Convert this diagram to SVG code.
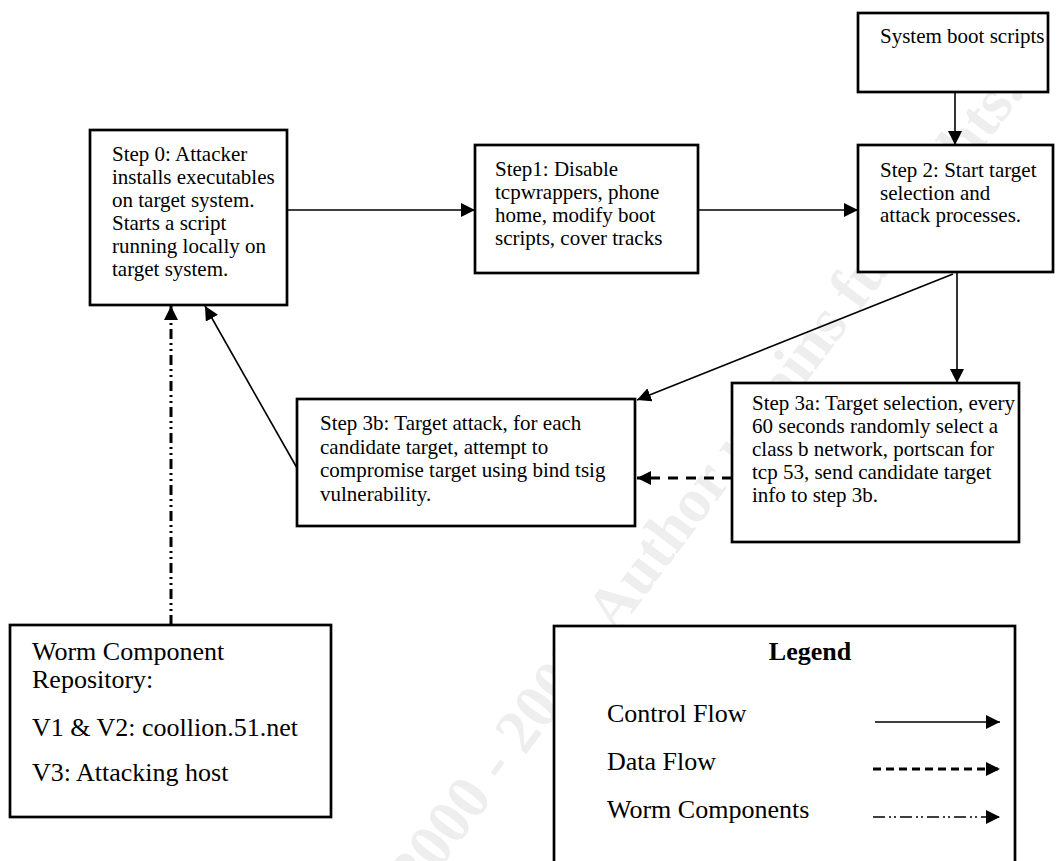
<svg xmlns="http://www.w3.org/2000/svg" width="1057" height="861" viewBox="0 0 1057 861">
<style>
  .box { fill: #ffffff; stroke: #000000; stroke-width: 2.7; }
  .t { font-family: "Liberation Serif", "Times New Roman", serif; font-size: 21px; fill: #000000; }
  .tl { font-family: "Liberation Serif", "Times New Roman", serif; font-size: 26px; fill: #000000; }
  .tb { font-family: "Liberation Serif", "Times New Roman", serif; font-size: 26px; font-weight: bold; fill: #000000; }
  .wm { font-family: "Liberation Serif", "Times New Roman", serif; font-size: 62px; font-weight: bold; fill: #eeeeee; }
  .ctrl { fill: none; stroke: #000000; stroke-width: 1.6; }
  .data { fill: none; stroke: #000000; stroke-width: 3; stroke-dasharray: 10 8; }
  .worm { fill: none; stroke: #000000; stroke-width: 3; stroke-dasharray: 10 4 2 4 2 4; }
  .lctrl { fill: none; stroke: #000000; stroke-width: 1.6; }
  .ldata { fill: none; stroke: #000000; stroke-width: 3; stroke-dasharray: 8 5; }
  .lworm { fill: none; stroke: #000000; stroke-width: 1.6; stroke-dasharray: 12 4 2 3 2 4; }
</style>
<defs>
  <marker id="ah" markerUnits="userSpaceOnUse" markerWidth="15" markerHeight="15" refX="14" refY="7" orient="auto">
    <path d="M0,0 L14,7 L0,14 Z" fill="#000000"/>
  </marker>
</defs>

<text class="wm" transform="translate(1025,92) rotate(-53)" text-anchor="end">© SANS Institute 2000 - 2002, Author retains full rights.</text>

<g id="connectors">
  <line class="ctrl" x1="287" y1="210" x2="475" y2="210" marker-end="url(#ah)"/>
  <line class="ctrl" x1="698" y1="210" x2="858" y2="210" marker-end="url(#ah)"/>
  <line class="ctrl" x1="955" y1="82" x2="955" y2="145" marker-end="url(#ah)"/>
  <line class="ctrl" x1="957" y1="272" x2="957" y2="383" marker-end="url(#ah)"/>
  <line class="ctrl" x1="953" y1="274" x2="637" y2="400" marker-end="url(#ah)"/>
  <line class="ctrl" x1="297" y1="468" x2="205" y2="306" marker-end="url(#ah)"/>
  <line class="data" x1="732" y1="478" x2="637" y2="478" marker-end="url(#ah)"/>
  <line class="worm" x1="171" y1="625" x2="171" y2="306" marker-end="url(#ah)"/>
</g>

<g id="node-step0">
  <rect class="box" x="90" y="130" width="197" height="175"/>
  <text class="t" x="112" y="161">Step 0: Attacker</text>
  <text class="t" x="112" y="184">installs executables</text>
  <text class="t" x="112" y="207">on target system.</text>
  <text class="t" x="112" y="230">Starts a script</text>
  <text class="t" x="112" y="253">running locally on</text>
  <text class="t" x="112" y="276">target system.</text>
</g>

<g id="node-step1">
  <rect class="box" x="475" y="145" width="223" height="128"/>
  <text class="t" x="495" y="176">Step1: Disable</text>
  <text class="t" x="495" y="199">tcpwrappers, phone</text>
  <text class="t" x="495" y="222">home, modify boot</text>
  <text class="t" x="495" y="245">scripts, cover tracks</text>
</g>

<g id="node-boot">
  <rect class="box" x="858" y="13" width="190" height="79"/>
  <text class="t" x="880" y="43">System boot scripts</text>
</g>

<g id="node-step2">
  <rect class="box" x="858" y="145" width="195" height="127"/>
  <text class="t" x="880" y="177">Step 2: Start target</text>
  <text class="t" x="880" y="199.5">selection and</text>
  <text class="t" x="880" y="222">attack processes.</text>
</g>

<g id="node-step3a">
  <rect class="box" x="732" y="383" width="287" height="159"/>
  <text class="t" x="752" y="410">Step 3a: Target selection, every</text>
  <text class="t" x="752" y="433">60 seconds randomly select a</text>
  <text class="t" x="752" y="456">class b network, portscan for</text>
  <text class="t" x="752" y="479">tcp 53, send candidate target</text>
  <text class="t" x="752" y="502">info to step 3b.</text>
</g>

<g id="node-step3b">
  <rect class="box" x="297" y="399" width="338" height="127"/>
  <text class="t" x="320" y="430">Step 3b: Target attack, for each</text>
  <text class="t" x="320" y="453.5">candidate target, attempt to</text>
  <text class="t" x="320" y="477">compromise target using bind tsig</text>
  <text class="t" x="320" y="500.5">vulnerability.</text>
</g>

<g id="node-repository">
  <rect class="box" x="10" y="625" width="321" height="192"/>
  <text class="tl" x="32" y="660">Worm Component</text>
  <text class="tl" x="32" y="688">Repository:</text>
  <text class="tl" x="32" y="736">V1 &amp; V2: coollion.51.net</text>
  <text class="tl" x="32" y="781">V3: Attacking host</text>
</g>

<g id="node-legend">
  <rect class="box" x="554" y="626" width="461" height="260"/>
  <text class="tb" x="810" y="660" text-anchor="middle">Legend</text>
  <text class="tl" x="607" y="722">Control Flow</text>
  <text class="tl" x="607" y="770">Data Flow</text>
  <text class="tl" x="607" y="818">Worm Components</text>
  <line class="lctrl" x1="875" y1="722" x2="1000" y2="722" marker-end="url(#ah)"/>
  <line class="ldata" x1="873" y1="769" x2="1000" y2="769" marker-end="url(#ah)"/>
  <line class="lworm" x1="873" y1="817" x2="1000" y2="817" marker-end="url(#ah)"/>
</g>
</svg>
